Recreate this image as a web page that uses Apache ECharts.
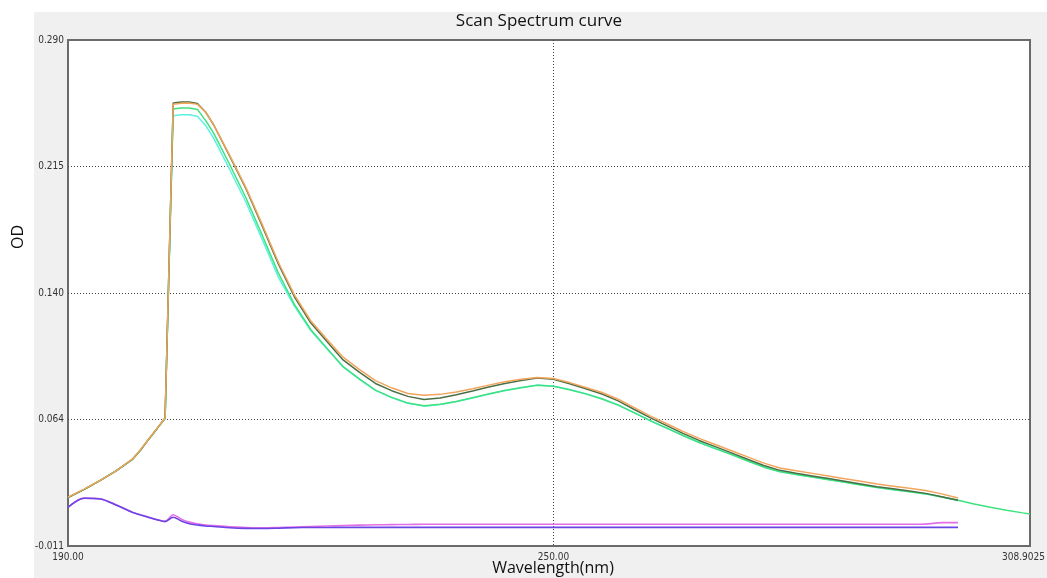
<!DOCTYPE html>
<html>
<head>
<meta charset="utf-8">
<script src="https://cdn.jsdelivr.net/npm/echarts@6/dist/echarts.min.js"></script>
<style>
  html, body { margin: 0; padding: 0; background: #ffffff; }
  #chart { width: 1047px; height: 578px; }
</style>
</head>
<body>
<div id="chart"></div>
<script>
// Scan wavelengths (nm) shared by the 190-300 nm scans
const wavelengths = [190,192,194,196,198,199,200,201,202,203,204,205,206,207,208,
  210,212,214,216,218,220,222,224,226,228,230,232,234,236,238,240,242,244,246,248,
  250,252,254,256,258,260,262,264,266,268,270,272,274,276,278,280,282,284,286,288,
  290,292,294,296,298,300];
// The green scan runs out to the end of the axis
const wavelengthsLong = wavelengths.concat([302,304,306,308,308.9]);

// Optical density readings, one array per scan
const odOrange = [0.0180,0.0228,0.0281,0.0339,0.0408,0.0464,0.0528,0.0589,0.0651,0.2518,
  0.2524,0.2525,0.2517,0.2470,0.2397,0.2212,0.2022,0.1803,0.1578,0.1382,0.1230,0.1120,
  0.1013,0.0941,0.0874,0.0831,0.0797,0.0787,0.0792,0.0806,0.0825,0.0847,0.0867,0.0882,
  0.0892,0.0886,0.0862,0.0833,0.0803,0.0763,0.0713,0.0663,0.0617,0.0572,0.0530,0.0494,
  0.0457,0.0420,0.0383,0.0354,0.0337,0.0322,0.0306,0.0290,0.0275,0.0259,0.0246,0.0233,
  0.0220,0.0200,0.0176];
const odOlive = [0.0178,0.0227,0.0280,0.0338,0.0407,0.0463,0.0527,0.0588,0.0650,0.2525,
  0.2531,0.2531,0.2522,0.2472,0.2396,0.2208,0.2015,0.1794,0.1568,0.1371,0.1218,0.1106,
  0.0997,0.0924,0.0857,0.0814,0.0780,0.0762,0.0771,0.0790,0.0812,0.0836,0.0857,0.0875,
  0.0889,0.0882,0.0855,0.0825,0.0794,0.0753,0.0702,0.0652,0.0606,0.0560,0.0518,0.0481,
  0.0444,0.0406,0.0369,0.0340,0.0323,0.0307,0.0291,0.0275,0.0259,0.0243,0.0230,0.0217,
  0.0203,0.0183,0.0162];
const odGreen = [0.0178,0.0227,0.0280,0.0338,0.0407,0.0463,0.0527,0.0588,0.0650,0.2490,
  0.2496,0.2496,0.2487,0.2422,0.2346,0.2158,0.1960,0.1739,0.1513,0.1326,0.1178,0.1066,
  0.0957,0.0884,0.0817,0.0774,0.0740,0.0724,0.0733,0.0750,0.0772,0.0794,0.0815,0.0832,
  0.0846,0.0840,0.0820,0.0795,0.0764,0.0728,0.0682,0.0634,0.0591,0.0547,0.0506,0.0469,
  0.0434,0.0396,0.0359,0.0332,0.0315,0.0300,0.0284,0.0269,0.0253,0.0238,0.0225,0.0213,
  0.0200,0.0181,0.0162,0.0140,0.0120,0.0103,0.0087,0.0080];
const odCyan = [0.0178,0.0227,0.0280,0.0338,0.0407,0.0463,0.0527,0.0588,0.0650,0.2450,
  0.2456,0.2456,0.2447,0.2392,0.2316,0.2128,0.1935,0.1714,0.1490,0.1316,0.1172,0.1064,
  0.0956,0.0883,0.0816,0.0773,0.0739,0.0722,0.0731,0.0749,0.0771,0.0794,0.0815,0.0833,
  0.0847,0.0841,0.0821,0.0796,0.0766,0.0729,0.0683,0.0635,0.0592,0.0548,0.0507,0.0470,
  0.0435,0.0397,0.0360,0.0333,0.0316,0.0301,0.0285,0.0270,0.0254,0.0239,0.0226,0.0214,
  0.0201,0.0182,0.0161];
const odBlue = [0.0120,0.0174,0.0170,0.0132,0.0089,0.0074,0.0060,0.0046,0.0035,0.0061,
  0.0039,0.0022,0.0015,0.0009,0.0006,-0.0001,-0.0005,-0.0006,-0.0004,-0.0001,0.0000,
  0.0000,0.0001,0.0001,0.0001,0.0001,0.0001,0.0001,0.0001,0.0001,0.0001,0.0001,0.0001,
  0.0001,0.0001,0.0001,0.0001,0.0001,0.0001,0.0001,0.0001,0.0001,0.0001,0.0001,0.0001,
  0.0001,0.0001,0.0001,0.0001,0.0001,0.0001,0.0001,0.0001,0.0001,0.0001,0.0001,0.0001,
  0.0001,0.0001,0.0001,0.0001];
const odMagenta = [0.0121,0.0175,0.0171,0.0134,0.0090,0.0075,0.0061,0.0047,0.0037,0.0076,
  0.0050,0.0032,0.0022,0.0015,0.0011,0.0004,0.0000,-0.0002,0.0000,0.0003,0.0006,0.0009,
  0.0012,0.0014,0.0016,0.0017,0.0018,0.0019,0.0019,0.0019,0.0019,0.0019,0.0019,0.0019,
  0.0019,0.0019,0.0019,0.0019,0.0019,0.0019,0.0019,0.0019,0.0019,0.0019,0.0019,0.0019,
  0.0019,0.0019,0.0019,0.0019,0.0019,0.0019,0.0019,0.0019,0.0019,0.0019,0.0019,0.0019,
  0.0020,0.0029,0.0029];

// Axis tick labels as the instrument prints them
const xTickLabels = ['190.00', '250.00', '308.9025'];
const yTickLabels = ['-0.011', '0.064', '0.140', '0.215', '0.290'];

const pairs = (xs, ys) => ys.map((v, i) => [xs[i], v]);

const lineSeries = (name, xs, ys, color, width, smooth) => ({
  name: name,
  type: 'line',
  data: pairs(xs, ys),
  showSymbol: false,
  symbol: 'none',
  smooth: smooth,
  animation: false,
  lineStyle: { color: color, width: width },
  emphasis: { disabled: true }
});

const chart = echarts.init(document.getElementById('chart'), null, { renderer: 'canvas' });

const tickFont = "'Liberation Sans Narrow', 'DejaVu Sans Condensed', 'Liberation Sans', sans-serif";

chart.setOption({
  backgroundColor: '#ffffff',
  animation: false,
  grid: {
    left: 68, top: 40, right: 17, bottom: 32,
    outerBoundsMode: 'none',
    containLabel: false,
    show: true,
    backgroundColor: '#ffffff',
    borderColor: '#6a6a6a',
    borderWidth: 2
  },
  xAxis: {
    type: 'value',
    min: 190,
    max: 308.9025,
    interval: 60,
    axisLine: { show: false },
    axisTick: { show: false },
    splitLine: {
      show: true, showMinLine: false, showMaxLine: false,
      lineStyle: { color: '#444444', width: 1, type: [1, 2] }
    },
    axisLabel: {
      margin: 6,
      color: '#333333',
      fontSize: 10,
      fontFamily: tickFont,
      showMinLabel: true,
      showMaxLabel: true,
      // the end label is pulled left so it stays inside the panel
      formatter: (v, i) => i === xTickLabels.length - 1 ? '{end|' + xTickLabels[i] + '}' : xTickLabels[i],
      rich: {
        end: { fontSize: 10, fontFamily: tickFont, color: '#333333', padding: [0, 13, 0, 0] }
      }
    }
  },
  yAxis: {
    type: 'value',
    min: -0.011,
    max: 0.290,
    interval: 0.07525,
    axisLine: { show: false },
    axisTick: { show: false },
    splitLine: {
      show: true, showMinLine: false, showMaxLine: false,
      lineStyle: { color: '#444444', width: 1, type: [1, 2] }
    },
    axisLabel: {
      margin: 4,
      color: '#333333',
      fontSize: 10,
      fontFamily: tickFont,
      showMinLabel: true,
      showMaxLabel: true,
      formatter: (v, i) => yTickLabels[i]
    }
  },
  graphic: [
    {
      type: 'rect', z: -100, silent: true,
      shape: { x: 34, y: 12, width: 1013, height: 566 },
      style: { fill: '#f0f0f0' }
    },
    {
      type: 'text', z: 100, silent: true,
      x: 539, y: 21,
      style: {
        text: 'Scan Spectrum curve',
        font: "17px 'Open Sans', 'Noto Sans', sans-serif",
        fill: '#111111', align: 'center', verticalAlign: 'middle'
      }
    },
    {
      type: 'text', z: 100, silent: true,
      x: 553, y: 568,
      style: {
        text: 'Wavelength(nm)',
        font: "16px 'Open Sans', 'Noto Sans', sans-serif",
        fill: '#111111', align: 'center', verticalAlign: 'middle'
      }
    },
    {
      type: 'text', z: 100, silent: true,
      x: 18, y: 237, rotation: Math.PI / 2,
      style: {
        text: 'OD',
        font: "16px 'Open Sans', 'Noto Sans', sans-serif",
        fill: '#111111', align: 'center', verticalAlign: 'middle'
      }
    }
  ],
  series: [
    lineSeries('Scan 3', wavelengths, odCyan, '#5cf2e2', 1.5, false),
    lineSeries('Scan 4', wavelengthsLong, odGreen, '#3ee27e', 1.5, false),
    lineSeries('Scan 2', wavelengths, odOlive, '#4b6f45', 1.5, false),
    lineSeries('Scan 1', wavelengths, odOrange, '#f3a45c', 1.5, false),
    lineSeries('Blank 2', wavelengths, odMagenta, '#e26fe6', 1.6, 0.3),
    lineSeries('Blank 1', wavelengths, odBlue, '#6b44e6', 1.6, 0.3)
  ]
});
</script>
</body>
</html>
